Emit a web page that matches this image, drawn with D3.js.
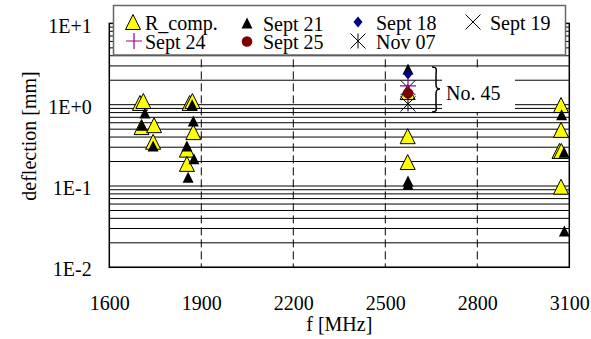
<!DOCTYPE html>
<html>
<head>
<meta charset="utf-8">
<script src="https://cdn.jsdelivr.net/npm/d3@7"></script>
<style>
  body { margin: 0; background: #fff; }
  text { font-family: "Liberation Serif", "Times New Roman", serif; font-size: 20px; fill: #000; }
</style>
</head>
<body>
<svg width="591" height="339"></svg>
<script>
// data: [frequency MHz, deflection mm]
const rComp = [[1700,1.05],[1711,1.11],[1705,0.53],[1746,0.56],[1743,0.35],
  [1862,1.05],[1871,1.11],[1874,0.46],[1853,0.28],[1853,0.187],
  [2573,1.43],[2573,0.41],[2573,0.197],
  [3073,0.99],[3073,0.49],[3068,0.27],[3074,0.27],[3073,0.098]];
const sept21 = [[1716,0.79],[1706,0.56],[1743,0.31],
  [1870,1.0],[1874,0.63],[1853,0.31],[1876,0.216],[1857,0.128],
  [2574,2.75],[2574,0.115],[2574,0.105],
  [3075,0.75],[3083,0.26],[3084,0.028]];
const sept18 = [[2574,2.39]];
const sept19 = [[2574,1.62]];
const sept24 = [[2574,1.70]];
const sept25 = [[2574,1.38]];
const nov07 = [[2574,1.02]];

const xTicks = [1600,1900,2200,2500,2800,3100];
const yTicks = [0.01,0.1,1,10];
const yLabels = ["1E-2","1E-1","1E+0","1E+1"];

var svg = d3.select("svg");
var pLeft = 109.3, pRight = 569.3, pTop = 23.4, pBottom = 267.3;

var x = d3.scaleLinear().domain([1600,3100]).range([pLeft,pRight]);
var y = d3.scaleLog().domain([0.01,10]).range([pBottom,pTop]);

// horizontal grid (all log minors)
var gridVals = [];
[0.01,0.1,1].forEach(function(d) {
  for (var k = 1; k < 10; k++) gridVals.push(d*k);
});
svg.append("g").selectAll("line").data(gridVals).enter().append("line")
  .attr("x1", pLeft).attr("x2", pRight)
  .attr("y1", function(d) { return y(d); }).attr("y2", function(d) { return y(d); })
  .attr("stroke", "#000").attr("stroke-width", 1);

// vertical dashed grid
svg.append("g").selectAll("line").data(xTicks.slice(1,-1)).enter().append("line")
  .attr("x1", function(d) { return x(d); }).attr("x2", function(d) { return x(d); })
  .attr("y1", pTop).attr("y2", pBottom)
  .attr("stroke", "#000").attr("stroke-width", 1).attr("stroke-dasharray", "8,4");

// frame
svg.append("rect").attr("x", pLeft).attr("y", pTop)
  .attr("width", pRight-pLeft).attr("height", pBottom-pTop)
  .attr("fill", "none").attr("stroke", "#000").attr("stroke-width", 1.5);

// axes (labels only)
var yAxis = svg.append("g").attr("transform", "translate(" + pLeft + ",0)")
  .call(d3.axisLeft(y).tickValues(yTicks).tickSize(0).tickPadding(17.6)
    .tickFormat(function(d, i) { return yLabels[i]; }));
yAxis.select(".domain").remove();
yAxis.selectAll("text").attr("dy", "0.43em");

var xAxis = svg.append("g").attr("transform", "translate(0," + pBottom + ")")
  .call(d3.axisBottom(x).tickValues(xTicks).tickSize(0).tickPadding(28.5).tickFormat(d3.format("d")));
xAxis.select(".domain").remove();
svg.selectAll(".tick text").style("font-family", "'Liberation Serif', serif").style("font-size", "20px").style("fill", "#000");

svg.append("text").attr("x", (pLeft+pRight)/2).attr("y", 331)
  .attr("text-anchor", "middle").text("f [MHz]");
svg.append("text").attr("transform", "translate(36,136) rotate(-90)")
  .attr("text-anchor", "middle").text("deflection [mm]");

// marker shapes
function tri(w, h) { return "M0," + (-h/2) + "L" + (w/2) + "," + (h/2) + "L" + (-w/2) + "," + (h/2) + "Z"; }
function diamond(w, h) { return "M0," + (-h/2) + "L" + (w/2) + ",0L0," + (h/2) + "L" + (-w/2) + ",0Z"; }
function cross(s) { return "M" + (-s) + "," + (-s) + "L" + s + "," + s + "M" + s + "," + (-s) + "L" + (-s) + "," + s; }
function plus(s) { return "M" + (-s) + ",0L" + s + ",0M0," + (-s) + "L0," + s; }
function star(s) { return cross(s) + "M0," + (-s) + "L0," + s; }

var series = [
  { name: "R_comp.", data: rComp, d: tri(15,15), fill: "#ffff00", stroke: "#000", sw: 1 },
  { name: "Sept 21", data: sept21, d: tri(11,11), fill: "#000", stroke: "none", sw: 0 },
  { name: "Sept 18", data: sept18, d: diamond(9,11), fill: "#000080", stroke: "none", sw: 0 },
  { name: "Sept 19", data: sept19, d: cross(7.5), fill: "none", stroke: "#000", sw: 1 },
  { name: "Sept 24", data: sept24, d: plus(8), fill: "none", stroke: "#990099", sw: 1.2 },
  { name: "Sept 25", data: sept25, d: "circle", fill: "#800000", stroke: "none", sw: 0 },
  { name: "Nov 07", data: nov07, d: star(7.5), fill: "none", stroke: "#000", sw: 1 }
];

function drawMarker(sel, s) {
  if (s.d === "circle") {
    sel.append("circle").attr("r", 5.3).attr("fill", s.fill);
  } else {
    sel.append("path").attr("d", s.d).attr("fill", s.fill)
      .attr("stroke", s.stroke).attr("stroke-width", s.sw);
  }
}

series.forEach(function(s) {
  var g = svg.append("g").selectAll("g").data(s.data).enter().append("g")
    .attr("transform", function(d) { return "translate(" + x(d[0]) + "," + y(d[1]) + ")"; });
  g.each(function() { drawMarker(d3.select(this), s); });
});

// "No. 45" callout
svg.append("rect").attr("x", 442).attr("y", 70).attr("width", 73).attr("height", 42).attr("fill", "#fff");
svg.append("path")
  .attr("d", "M432,67 C438,67 436,70 436,75 L436,84 C436,88 437,89 440,89 C437,89 436,90 436,94 L436,104 C436,109 438,112 432,112")
  .attr("fill", "none").attr("stroke", "#000").attr("stroke-width", 1.5);
svg.append("text").attr("x", 446).attr("y", 100).text("No. 45");

// legend
var legendPos = [[133,22,145],[247,23,263],[358,22,376],[473,22,490],
                 [134,41,145],[247,41.5,263],[358,41,376]];
var lg = svg.append("g");
lg.append("rect").attr("x", 113.5).attr("y", 5.5).attr("width", 452).attr("height", 49.5)
  .attr("fill", "#fff").attr("stroke", "#666").attr("stroke-width", 1.5);
series.forEach(function(s, i) {
  var p = legendPos[i];
  var m = lg.append("g").attr("transform", "translate(" + p[0] + "," + p[1] + ")");
  drawMarker(m, s);
  lg.append("text").attr("x", p[2]).attr("y", p[1] + 7.5).text(s.name);
});
</script>
</body>
</html>
